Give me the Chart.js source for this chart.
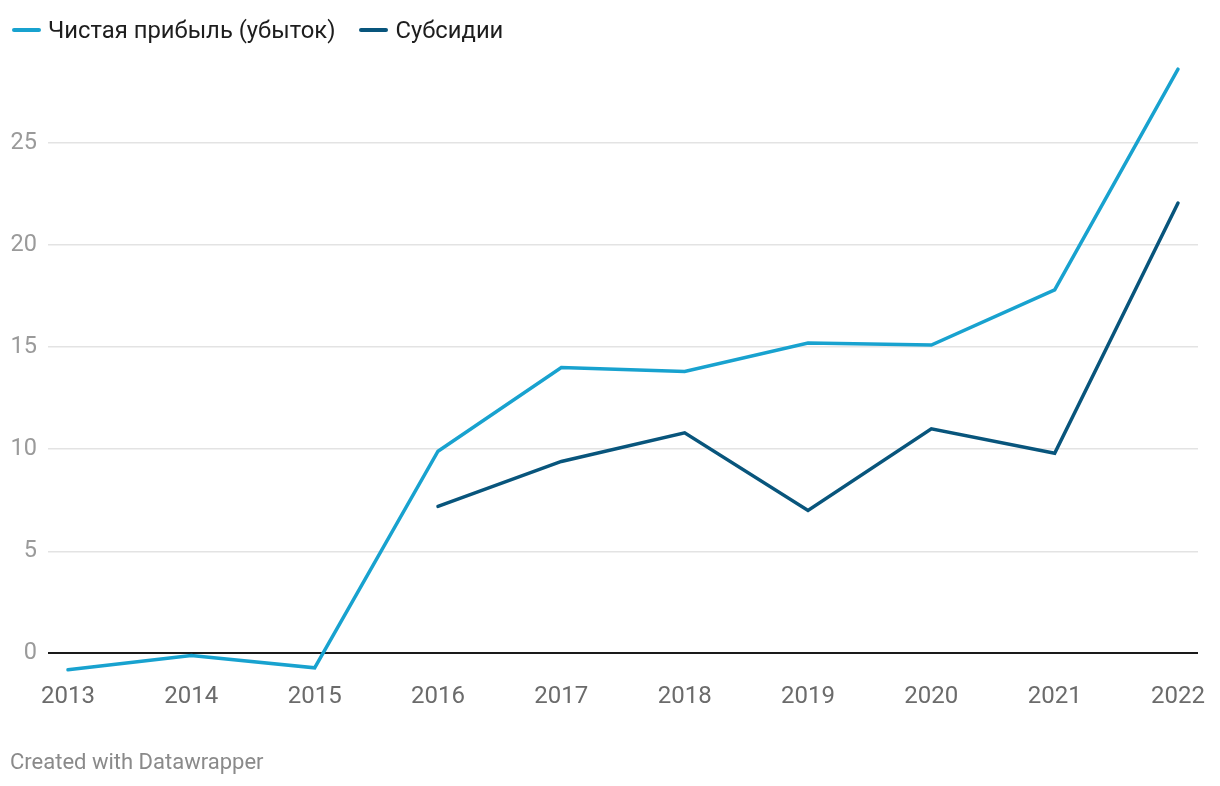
<!DOCTYPE html>
<html>
<head>
<meta charset="utf-8">
<script src="https://cdn.jsdelivr.net/npm/chart.js@4"></script>
<style>
  body { margin: 0; background: #fff; font-family: Roboto, sans-serif; }
  #wrap { position: relative; width: 1220px; height: 786px; }
  #chart { position: absolute; left: 0; top: 0; }
  .legend { position: absolute; top: 16px; left: 12px; display: flex; font-size: 23.8px; color: #1d1d1d; }
  .legend .item { display: flex; align-items: center; margin-right: 24px; }
  .legend .mark { width: 29px; height: 4px; border-radius: 2px; margin-right: 7px; }
  .footer { position: absolute; left: 10px; top: 749px; font-size: 22px; color: #8a8a8a; }
</style>
</head>
<body>
<div id="wrap">
  <canvas id="chart" width="1220" height="786"></canvas>
  <div class="legend">
    <div class="item"><span class="mark" style="background:#18a2cf"></span>Чистая прибыль (убыток)</div>
    <div class="item"><span class="mark" style="background:#08557c"></span>Субсидии</div>
  </div>
  <div class="footer">Created with Datawrapper</div>
</div>
<script>
// данные
const years = [2013, 2014, 2015, 2016, 2017, 2018, 2019, 2020, 2021, 2022];
const netProfit = [-0.8, -0.1, -0.7, 9.9, 14.0, 13.8, 15.2, 15.1, 17.8, 28.6];
const subsidies = [null, null, null, 7.2, 9.4, 10.8, 7.0, 11.0, 9.8, 22.05];
const yTicks = [0, 5, 10, 15, 20, 25];

const toPoints = (vals) => years.map((y, i) => ({ x: y, y: vals[i] }));

const ctx = document.getElementById("chart").getContext("2d");
const chart = new Chart(ctx, {
  type: "line",
  data: {
    datasets: [
      {
        label: "Чистая прибыль (убыток)",
        data: toPoints(netProfit),
        borderColor: "#18a2cf",
        borderWidth: 3.5,
        pointRadius: 0,
        tension: 0,
        borderCapStyle: "round",
      },
      {
        label: "Субсидии",
        data: toPoints(subsidies),
        borderColor: "#08557c",
        borderWidth: 3.5,
        pointRadius: 0,
        tension: 0,
        spanGaps: false,
        borderCapStyle: "round",
      },
    ],
  },
  options: {
    responsive: false,
    animation: false,
    layout: { padding: { top: 61, right: 22, bottom: 68, left: 0 } },
    scales: {
      x: {
        type: "linear",
        min: 2012.838,
        max: 2022.162,
        afterBuildTicks: (axis) => { axis.ticks = years.map((v) => ({ value: v })); },
        afterFit: (axis) => { axis.height = 40; },
        grid: { display: false, drawTicks: false },
        border: { display: false },
        ticks: {
          padding: 5,
          color: "#6b6b6b",
          font: { family: "Roboto", size: 24 },
          callback: (v) => String(v),
        },
      },
      y: {
        min: -1.2,
        max: 29,
        afterBuildTicks: (axis) => { axis.ticks = yTicks.map((v) => ({ value: v })); },
        afterFit: (axis) => { axis.width = 48; },
        border: { display: false },
        grid: {
          drawTicks: false,
          color: (c) => (c.tick && c.tick.value === 0 ? "#1a1a1a" : "#e3e3e3"),
          lineWidth: (c) => (c.tick && c.tick.value === 0 ? 2 : 1.5),
        },
        ticks: {
          padding: 11,
          color: "#9a9a9a",
          font: { family: "Roboto", size: 23.5 },
        },
      },
    },
    plugins: {
      legend: { display: false },
      tooltip: { enabled: false },
    },
  },
});
</script>
</body>
</html>
